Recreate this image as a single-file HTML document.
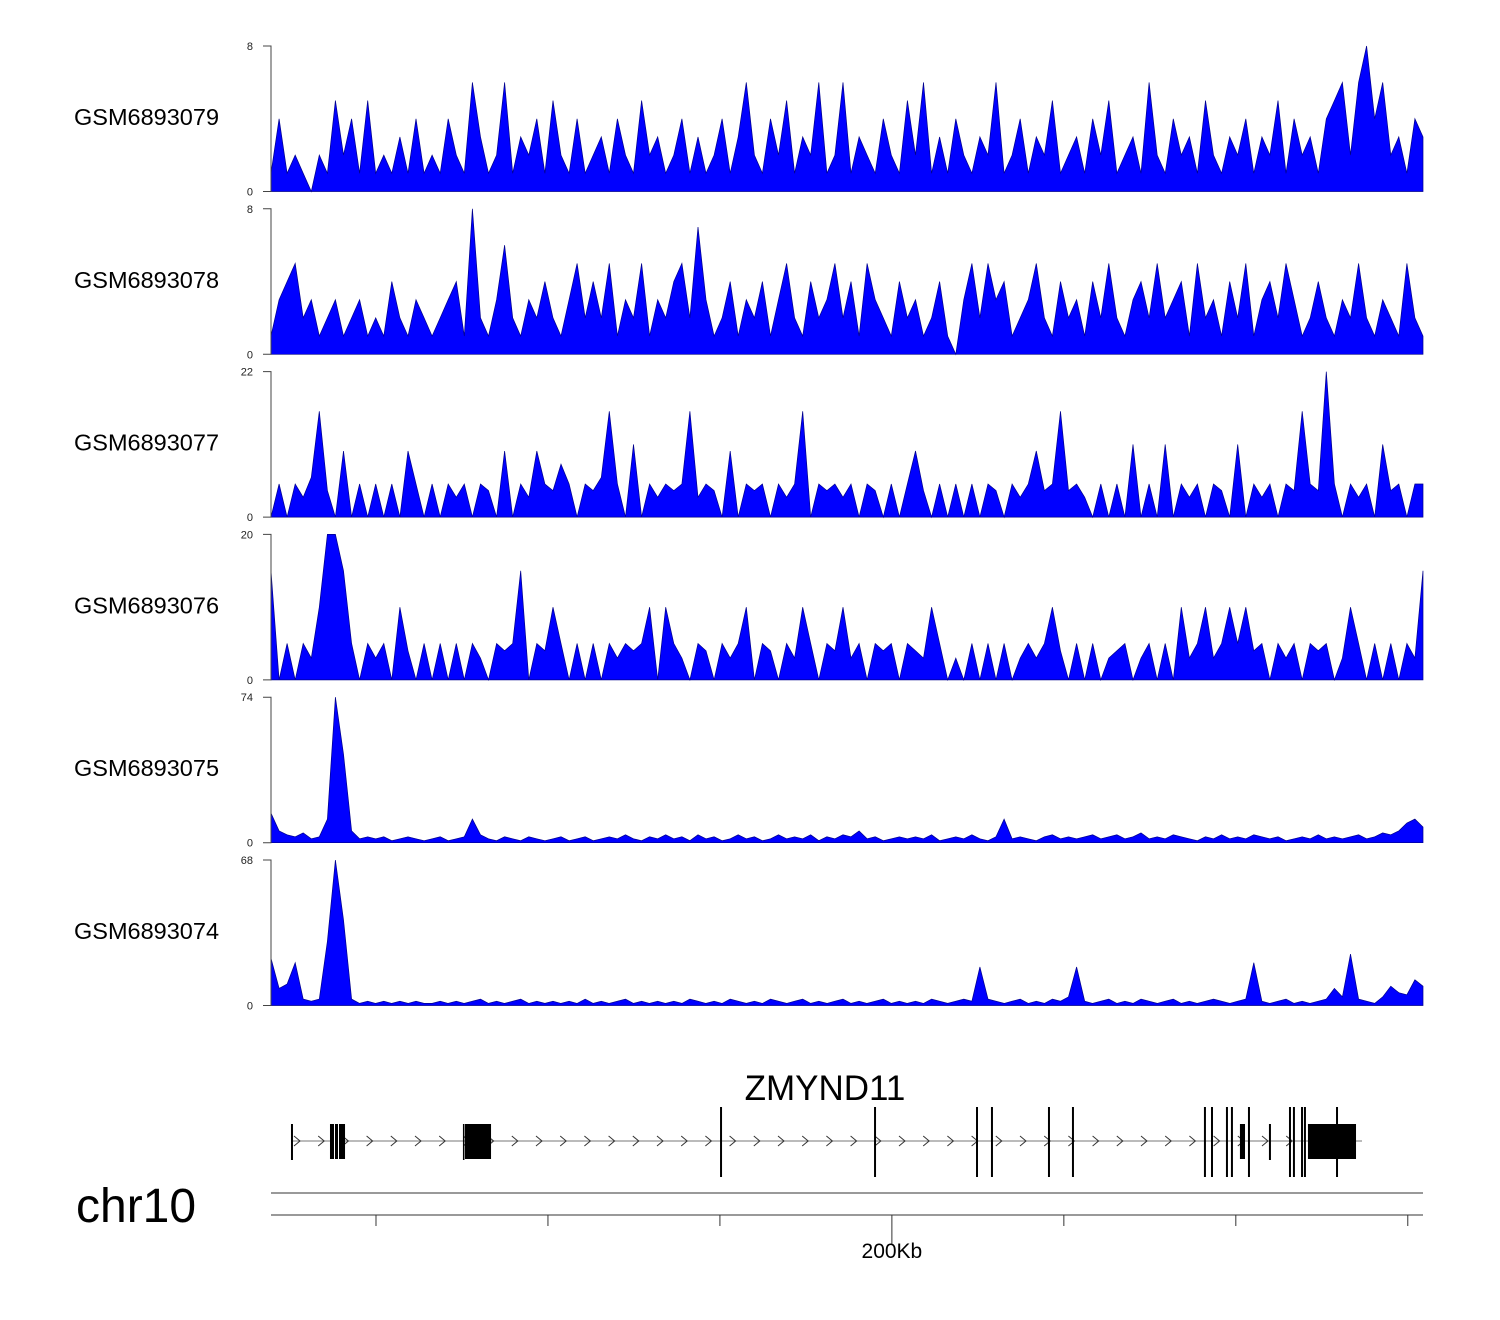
<!DOCTYPE html>
<html><head><meta charset="utf-8"><style>
body{margin:0;background:#fff;}
svg{display:block;font-family:"Liberation Sans",Arial,sans-serif;}
</style></head><body>
<svg id="chart" width="1500" height="1320" viewBox="0 0 1500 1320" xmlns="http://www.w3.org/2000/svg">
<g id="tracks"></g>
<g id="gene"></g>
<g id="axis"></g>
</svg>
<script>
const trackNames = ["GSM6893079","GSM6893078","GSM6893077","GSM6893076","GSM6893075","GSM6893074"];
const trackMax = [8,8,22,20,74,68];
const t1 = [1,4,1,2,1,0,2,1,5,2, 4,1,5,1,2,1,3,1,4,1, 2,1,4,2,1,6,3,1,2,6, 1,3,2,4,1,5,2,1,4,1, 2,3,1,4,2,1,5,2,3,1, 2,4,1,3,1,2,4,1,3,6, 2,1,4,2,5,1,3,2,6,1, 2,6,1,3,2,1,4,2,1,5, 2,6,1,3,1,4,2,1,3,2, 6,1,2,4,1,3,2,5,1,2, 3,1,4,2,5,1,2,3,1,6, 2,1,4,2,3,1,5,2,1,3, 2,4,1,3,2,5,1,4,2,3, 1,4,5,6,2,6,8,4,6,2, 3,1,4,3];
const t2 = [1,3,4,5,2,3,1,2,3,1, 2,3,1,2,1,4,2,1,3,2, 1,2,3,4,1,8,2,1,3,6, 2,1,3,2,4,2,1,3,5,2, 4,2,5,1,3,2,5,1,3,2, 4,5,2,7,3,1,2,4,1,3, 2,4,1,3,5,2,1,4,2,3, 5,2,4,1,5,3,2,1,4,2, 3,1,2,4,1,0,3,5,2,5, 3,4,1,2,3,5,2,1,4,2, 3,1,4,2,5,2,1,3,4,2, 5,2,3,4,1,5,2,3,1,4, 2,5,1,3,4,2,5,3,1,2, 4,2,1,3,2,5,2,1,3,2, 1,5,2,1];
const t3 = [0,5,0,5,3,6,16,4,0,10, 0,5,0,5,0,5,0,10,5,0, 5,0,5,3,5,0,5,4,0,10, 0,5,3,10,5,4,8,5,0,5, 4,6,16,5,0,11,0,5,3,5, 4,5,16,3,5,4,0,10,0,5, 4,5,0,5,3,5,16,0,5,4, 5,3,5,0,5,4,0,5,0,5, 10,4,0,5,0,5,0,5,0,5, 4,0,5,3,5,10,4,5,16,4, 5,3,0,5,0,5,0,11,0,5, 0,11,0,5,3,5,0,5,4,0, 11,0,5,3,5,0,5,4,16,5, 4,22,5,0,5,3,5,0,11,4, 5,0,5,5];
const t4 = [15,0,5,0,5,3,10,20,20,15, 5,0,5,3,5,0,10,4,0,5, 0,5,0,5,0,5,3,0,5,4, 5,15,0,5,4,10,5,0,5,0, 5,0,5,3,5,4,5,10,0,10, 5,3,0,5,4,0,5,3,5,10, 0,5,4,0,5,3,10,5,0,5, 4,10,3,5,0,5,4,5,0,5, 4,3,10,5,0,3,0,5,0,5, 0,5,0,3,5,3,5,10,4,0, 5,0,5,0,3,4,5,0,3,5, 0,5,0,10,3,5,10,3,5,10, 5,10,4,5,0,5,3,5,0,5, 4,5,0,3,10,5,0,5,0,5, 0,5,3,15];
const t5 = [15,6,4,3,5,2,3,12,74,45, 6,2,3,2,3,1,2,3,2,1, 2,3,1,2,3,12,4,2,1,3, 2,1,3,2,1,2,3,1,2,3, 1,2,3,2,4,2,1,3,2,4, 2,3,1,4,2,3,1,2,4,2, 3,1,2,4,2,3,2,4,1,3, 2,4,3,6,2,3,1,2,3,2, 3,2,4,1,2,3,2,4,2,1, 3,12,2,3,2,1,3,4,2,3, 2,3,4,2,3,4,2,3,5,2, 3,2,4,3,2,1,3,2,4,2, 3,2,4,3,2,3,1,2,3,2, 4,2,3,2,3,4,2,3,5,4, 6,10,12,8];
const t6 = [22,8,10,20,3,2,3,30,68,40, 3,1,2,1,2,1,2,1,2,1, 1,2,1,2,1,2,3,1,2,1, 2,3,1,2,1,2,1,2,1,3, 1,2,1,2,3,1,2,1,2,1, 2,1,3,2,1,2,1,3,2,1, 2,1,3,2,1,2,3,1,2,1, 2,3,1,2,1,2,3,1,2,1, 2,1,3,2,1,2,3,2,18,3, 2,1,2,3,1,2,1,3,2,4, 18,2,1,2,3,1,2,1,3,2, 1,2,3,1,2,1,2,3,2,1, 2,3,20,2,1,2,3,1,2,1, 2,3,8,4,24,3,2,1,4,9, 6,5,12,9];
const trackData = [t1,t2,t3,t4,t5,t6];
// gene model (kb)
const tallLines = [180.13,198.04,209.90,211.64,218.27,221.06,236.41,237.23,238.97,239.55,241.53,246.30,246.76,247.70,248.04,251.77];
const shortLines = [130.23,243.97];
const blocks = [[134.65,136.40],[150.35,153.38],[240.48,241.07],[248.39,253.98]];
const blockEdges = [150.20];
const axisTicksKb = [140,160,180,200,220,240,260];
const axisLabel = "200Kb";

const NS="http://www.w3.org/2000/svg";
const X0=271, X1=1423, KB0=127.79, KB1=261.77;
function xKb(k){return X0+(k-KB0)/(KB1-KB0)*(X1-X0);}
function mk(tag,attrs,parent){const e=document.createElementNS(NS,tag);for(const k in attrs)e.setAttribute(k,attrs[k]);parent.appendChild(e);return e;}

const tg=document.getElementById('tracks');
trackData.forEach((vals,t)=>{
  const top=46+t*162.8, bot=top+145.5;
  const g=mk('g',{},tg);
  
  
  const yS=v=>bot-v/trackMax[t]*(bot-top);
  const xS=i=>X0+i*(X1-X0)/(vals.length-1);
  let pts=X0+','+bot+' ';
  vals.forEach((v,i)=>{pts+=xS(i).toFixed(1)+','+yS(v).toFixed(1)+' ';});
  pts+=X1+','+bot;
  const p=mk('polygon',{points:pts,fill:'#0000ff',stroke:'#00008b','stroke-width':'0.7'},g);
  
  
  const ax=mk('path',{d:`M263 ${top}H${X0}V${bot}H263`,stroke:'#444',fill:'none','stroke-width':'1'},g);
  
  
  const tt=mk('text',{x:253,y:top+4,'font-size':'11','text-anchor':'end',fill:'#222'},g);
  tt.textContent=trackMax[t];
  
  
  const tb=mk('text',{x:253,y:bot+4,'font-size':'11','text-anchor':'end',fill:'#222'},g);
  tb.textContent='0';
  
  
  const lb=mk('text',{x:74,y:top+79,'font-size':'23.5',fill:'#000'},g);
  lb.textContent=trackNames[t];
  
  
});

const gg=document.getElementById('gene');
const gy=1141;
const gl=mk('line',{x1:292,x2:1362,y1:gy,y2:gy,stroke:'#777','stroke-width':'1'},gg);


for(let x=294;x<1356;x+=24.2){
  const c=mk('path',{d:`M${x} ${gy-5}L${x+6} ${gy}L${x} ${gy+5}`,stroke:'#333',fill:'none','stroke-width':'1'},gg);
  
  
}
tallLines.forEach(k=>{const l=mk('line',{x1:xKb(k),x2:xKb(k),y1:1107,y2:1177,stroke:'#000','stroke-width':'2'},gg);
  
  });
shortLines.forEach(k=>{const l=mk('line',{x1:xKb(k),x2:xKb(k),y1:1124,y2:1160,stroke:'#000','stroke-width':'2'},gg);
  
  });
blockEdges.forEach(k=>{const l=mk('line',{x1:xKb(k),x2:xKb(k),y1:1124,y2:1160,stroke:'#000','stroke-width':'1.5'},gg);
  
  });
blocks.forEach(b=>{const r=mk('rect',{x:xKb(b[0]),y:1124,width:xKb(b[1])-xKb(b[0]),height:35,fill:'#000'},gg);
  
  });
[334.5,338.5].forEach(x=>{const l=mk('line',{x1:x,x2:x,y1:1124,y2:1159,stroke:'#fff','stroke-width':'1'},gg);
  
  });
const gn=mk('text',{x:825,y:1100,'font-size':'35','text-anchor':'middle',fill:'#000'},gg);
gn.textContent='ZMYND11';



const ag=document.getElementById('axis');
const chr=mk('text',{x:76,y:1222,'font-size':'48',fill:'#000'},ag);
chr.textContent='chr10';


[1193,1215].forEach(y=>{const l=mk('line',{x1:X0,x2:X1,y1:y,y2:y,stroke:'#333','stroke-width':'1'},ag);
  
  });
axisTicksKb.forEach(k=>{const x=xKb(k);const big=k===200;
  const l=mk('line',{x1:x,x2:x,y1:1215,y2:big?1245:1226,stroke:'#333','stroke-width':'1'},ag);
  
  });
const al=mk('text',{x:xKb(200),y:1258,'font-size':'21','text-anchor':'middle',fill:'#000'},ag);
al.textContent=axisLabel;


</script>
</body></html>
